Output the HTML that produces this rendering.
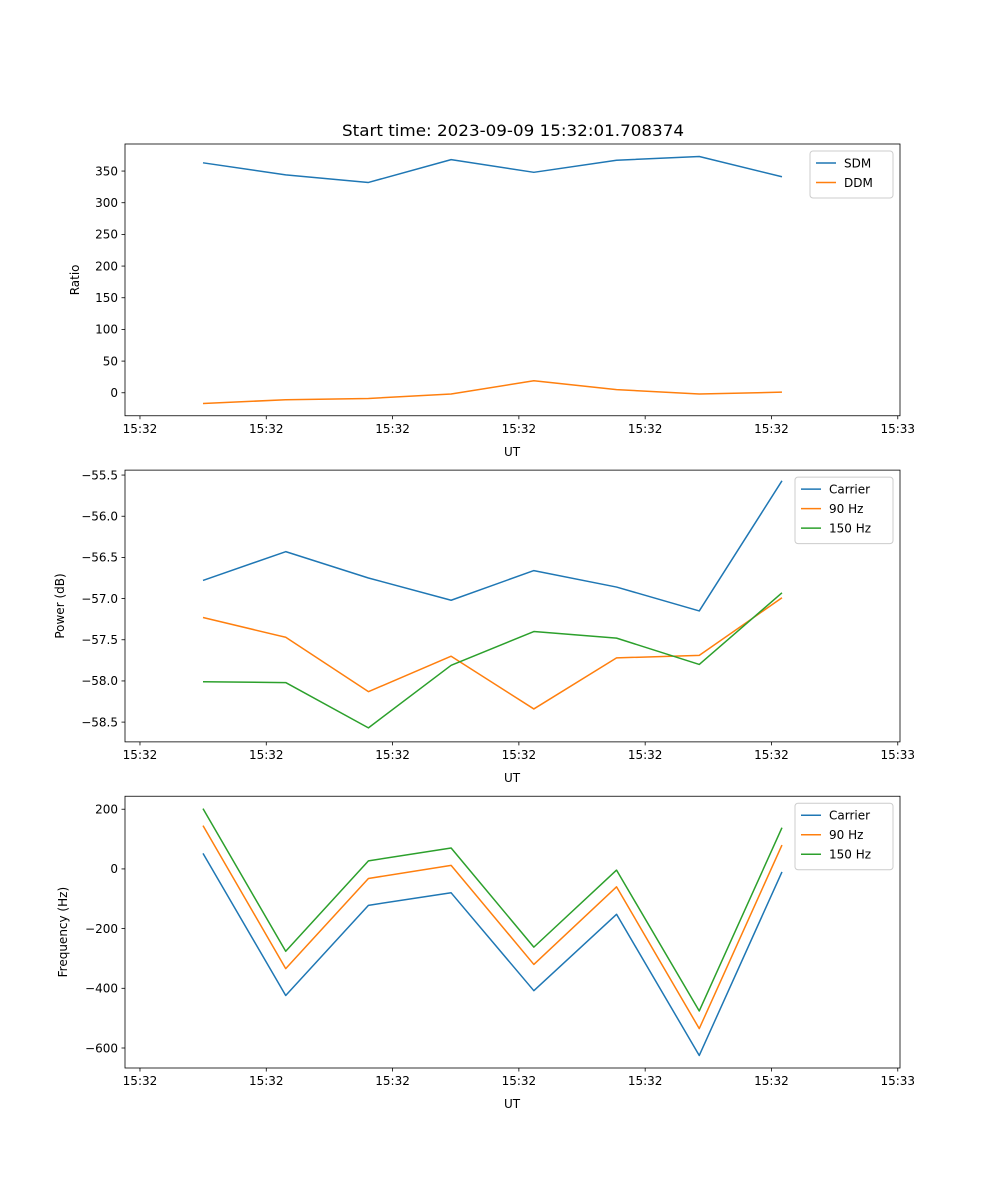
<!DOCTYPE html>
<html><head><meta charset="utf-8"><style>
body{margin:0;background:#fff}
svg{display:block;font-family:"DejaVu Sans","Liberation Sans",sans-serif}
</style></head><body>
<svg id="fig" width="1000" height="1200" viewBox="0 0 1000 1200">
<rect width="1000" height="1200" fill="#fff"/>
<text x="513" y="136" font-size="16" text-anchor="middle" textLength="342" lengthAdjust="spacingAndGlyphs">Start time: 2023-09-09 15:32:01.708374</text>
</svg>
<script>
const xCategories=[0,1,2,3,4,5,6,7];
const xTickValues=[-0.762,0.765,2.292,3.819,5.346,6.873,8.40];
const xTickLabels=["15:32","15:32","15:32","15:32","15:32","15:32","15:33"];
const sdm=[363,344,332,368,348,367,373,341];
const ddm=[-17,-11,-9,-2,19,5,-2,1];
const ratioTicks=[0,50,100,150,200,250,300,350];
const pwrCarrier=[-56.78,-56.43,-56.75,-57.02,-56.66,-56.86,-57.15,-55.57];
const pwr90=[-57.23,-57.47,-58.13,-57.70,-58.34,-57.72,-57.69,-56.99];
const pwr150=[-58.01,-58.02,-58.57,-57.81,-57.40,-57.48,-57.80,-56.93];
const pwrTicks=[-58.5,-58.0,-57.5,-57.0,-56.5,-56.0,-55.5];
const pwrTickLabels=["\u221258.5","\u221258.0","\u221257.5","\u221257.0","\u221256.5","\u221256.0","\u221255.5"];
const frqCarrier=[52,-424,-122,-80,-408,-152,-625,-10];
const frq90=[145,-334,-32,12,-320,-60,-535,80];
const frq150=[202,-276,27,70,-262,-4,-476,138];
const frqTicks=[-600,-400,-200,0,200];
const frqTickLabels=["\u2212600","\u2212400","\u2212200","0","200"];

const NS="http://www.w3.org/2000/svg";
const svg=document.getElementById('fig');
function mk(tag,attrs,parent){const e=document.createElementNS(NS,tag);for(const k in attrs)e.setAttribute(k,attrs[k]);(parent||svg).appendChild(e);return e;}
const L=125,R=900,XMIN=-0.943,XMAX=8.427;
function sx(v){return L+(v-XMIN)/(XMAX-XMIN)*(R-L);}

function panel(name,top,bot,ymin,ymax,yt,ytl,ylabel,series,legendW){
  const g=mk('g',{});
  
  
  const sy=v=>bot-(v-ymin)/(ymax-ymin)*(bot-top);
  series.forEach(s=>{
    const p=mk('polyline',{points:s.data.map((v,i)=>sx(xCategories[i]).toFixed(2)+','+sy(v).toFixed(2)).join(' '),fill:'none',stroke:s.color,'stroke-width':1.5,'stroke-linejoin':'round'},g);
    
    
  });
  const fr=mk('rect',{x:L,y:top,width:R-L,height:bot-top,fill:'none',stroke:'#000','stroke-width':0.8},g);
  
  
  xTickValues.forEach((v,i)=>{
    const x=sx(v);
    mk('line',{x1:x,x2:x,y1:bot,y2:bot+3.5,stroke:'#000','stroke-width':0.8},g);
    const t=mk('text',{x:x,y:bot+17,'font-size':12,'text-anchor':'middle'},g);
    t.textContent=xTickLabels[i];
    
    
  });
  const xl=mk('text',{x:512,y:bot+40,'font-size':12,'text-anchor':'middle'},g);
  xl.textContent='UT';
  
  
  yt.forEach((v,i)=>{
    const y=sy(v);
    mk('line',{x1:L,x2:L-3.5,y1:y,y2:y,stroke:'#000','stroke-width':0.8},g);
    const t=mk('text',{x:L-7,y:y+4.3,'font-size':12,'text-anchor':'end'},g);
    t.textContent=ytl[i];
    
    
  });
  const yx=name==='ratio'?79:(name==='power'?64:67);
  const yl=mk('text',{x:yx,y:(top+bot)/2,'font-size':12,'text-anchor':'middle',transform:`rotate(-90 ${yx} ${(top+bot)/2})`},g);
  yl.textContent=ylabel;
  
  
  const lh=series.length*19.5+8;
  const lx=R-7-legendW,ly=top+7;
  const lg=mk('g',{},g);
  
  
  mk('rect',{x:lx,y:ly,width:legendW,height:lh,rx:3,fill:'#fff','fill-opacity':0.8,stroke:'#ccc','stroke-width':1},lg);
  series.forEach((s,i)=>{
    const yy=ly+12+i*19.5;
    mk('line',{x1:lx+6,x2:lx+26,y1:yy,y2:yy,stroke:s.color,'stroke-width':1.5},lg);
    const t=mk('text',{x:lx+34,y:yy+4.3,'font-size':12},lg);
    t.textContent=s.label;
    
    
  });
}
const B='#1f77b4',O='#ff7f0e',G='#2ca02c';
panel('ratio',144,415.76,-36.3,392.7,ratioTicks,ratioTicks.map(String),'Ratio',
  [{key:'sdm',label:'SDM',data:sdm,color:B},{key:'ddm',label:'DDM',data:ddm,color:O}],83);
panel('power',470.12,741.88,-58.74,-55.44,pwrTicks,pwrTickLabels,'Power (dB)',
  [{key:'carrier',label:'Carrier',data:pwrCarrier,color:B},{key:'90hz',label:'90 Hz',data:pwr90,color:O},{key:'150hz',label:'150 Hz',data:pwr150,color:G}],98);
panel('frequency',796.24,1068,-667,243.5,frqTicks,frqTickLabels,'Frequency (Hz)',
  [{key:'carrier',label:'Carrier',data:frqCarrier,color:B},{key:'90hz',label:'90 Hz',data:frq90,color:O},{key:'150hz',label:'150 Hz',data:frq150,color:G}],98);
</script>
</body></html>
